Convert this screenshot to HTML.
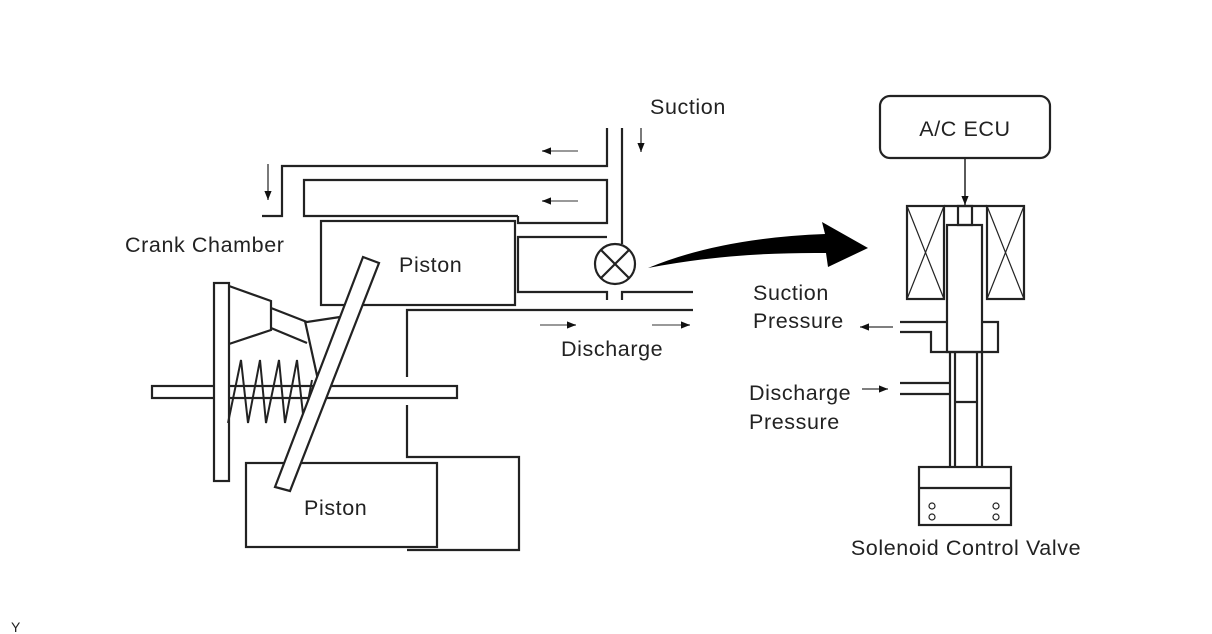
<!DOCTYPE html>
<html><head><meta charset="utf-8"><style>
html,body{margin:0;padding:0;background:#fff}
svg{display:block}
text{font-family:"Liberation Sans",Arial,sans-serif;font-size:21.5px;letter-spacing:0.6px;fill:#222}
</style></head><body>
<svg width="1212" height="634" viewBox="0 0 1212 634" xmlns="http://www.w3.org/2000/svg">
<defs>
<marker id="ah" viewBox="0 0 10 10" refX="10" refY="5" markerWidth="14" markerHeight="9" markerUnits="userSpaceOnUse" orient="auto"><path d="M0,1 L10,5 L0,9 Z" fill="#111"/></marker>
</defs>
<g fill="none" stroke="#222" stroke-width="2.2">
<polyline points="262,216 282,216 282,166 607,166 607,128"/>
<line x1="622" y1="128" x2="622" y2="244"/>
<polyline points="518,216 304,216 304,180 607,180 607,223 518,223 518,216"/>
<rect x="321" y="221" width="194" height="84"/>
<polyline points="607,237 518,237 518,292 607,292 607,300"/>
<polyline points="622,300 622,292 693,292"/>
<circle cx="615" cy="264" r="20" fill="#fff"/>
<line x1="601" y1="250" x2="629" y2="278"/><line x1="629" y1="250" x2="601" y2="278"/>
<polyline points="693,310 407,310 407,377"/>
<polyline points="407,405 407,457 519,457 519,550 407,550"/>
<rect x="246" y="463" width="191" height="84"/>
<rect x="152" y="386" width="305" height="12" fill="#fff"/>
<rect x="214" y="283" width="15" height="198" fill="#fff"/>
<polyline points="229,286 271,301 271,330 229,344"/>
<polyline points="271,308 307,322 340,317"/>
<polyline points="271,328 307,343"/>
<polyline points="305,321 318,380"/>
<polyline stroke-width="2" points="228,423 241,360 248,423 260,360 266,423 279,360 285,423 297,360 304,423 312,380"/>
<polygon points="363,257 379,263 290,491 275,487" fill="#fff"/>
<rect x="880" y="96" width="170" height="62" rx="10"/>
<line x1="965" y1="158" x2="965" y2="205" stroke-width="1.5" marker-end="url(#ah)"/>
<rect x="907" y="206" width="37" height="93"/>
<line x1="907" y1="206" x2="944" y2="299" stroke-width="1.2"/><line x1="944" y1="206" x2="907" y2="299" stroke-width="1.2"/>
<rect x="987" y="206" width="37" height="93"/>
<line x1="987" y1="206" x2="1024" y2="299" stroke-width="1.2"/><line x1="1024" y1="206" x2="987" y2="299" stroke-width="1.2"/>
<rect x="958" y="206" width="14" height="19"/>
<line x1="944" y1="206" x2="987" y2="206"/>
<rect x="947" y="225" width="35" height="127"/>
<polyline points="900,322 947,322"/>
<polyline points="982,322 998,322 998,352 931,352 931,332 900,332"/>
<line x1="950" y1="352" x2="950" y2="467"/>
<line x1="955" y1="352" x2="955" y2="467"/>
<line x1="977" y1="352" x2="977" y2="467"/>
<line x1="982" y1="352" x2="982" y2="467"/>
<polyline points="900,383 950,383"/>
<polyline points="900,394 950,394"/>
<line x1="955" y1="402" x2="977" y2="402"/>
<rect x="919" y="467" width="92" height="58"/>
<line x1="919" y1="488" x2="1011" y2="488"/>
<g stroke-width="1.2"><circle cx="932" cy="506" r="3"/><circle cx="932" cy="517" r="3"/><circle cx="996" cy="506" r="3"/><circle cx="996" cy="517" r="3"/></g>
</g>
<g stroke="#999" stroke-width="2" fill="none">
<line x1="578" y1="151" x2="542" y2="151" marker-end="url(#ah)"/>
<line x1="578" y1="201" x2="542" y2="201" marker-end="url(#ah)"/>
<line x1="540" y1="325" x2="576" y2="325" marker-end="url(#ah)"/>
<line x1="652" y1="325" x2="690" y2="325" marker-end="url(#ah)"/>
</g>
<g stroke="#333" stroke-width="1.3" fill="none">
<line x1="641" y1="128" x2="641" y2="152" marker-end="url(#ah)"/>
<line x1="268" y1="164" x2="268" y2="200" marker-end="url(#ah)"/>
<line x1="893" y1="327" x2="860" y2="327" marker-end="url(#ah)"/>
<line x1="862" y1="389" x2="888" y2="389" marker-end="url(#ah)"/>
</g>
<path d="M648,268 Q720,238 825,234 L822,222 L868,248 L828,267 L826,253 Q730,252 648,268 Z" fill="#000"/>
<text x="650" y="114">Suction</text>
<text x="125" y="252">Crank Chamber</text>
<text x="399" y="272">Piston</text>
<text x="304" y="515">Piston</text>
<text x="561" y="356">Discharge</text>
<text x="965" y="136" text-anchor="middle">A/C ECU</text>
<text x="753" y="300">Suction</text>
<text x="753" y="328">Pressure</text>
<text x="749" y="400">Discharge</text>
<text x="749" y="429">Pressure</text>
<text x="966" y="555" text-anchor="middle">Solenoid Control Valve</text>
<text x="11" y="632" style="font-size:14px">Y</text>
</svg>
</body></html>
